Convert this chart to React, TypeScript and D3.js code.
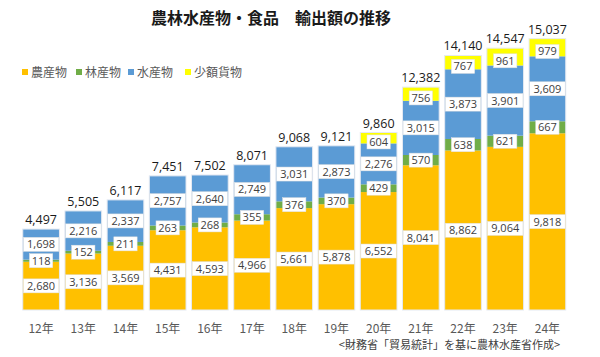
import React from "react";
import * as d3 from "d3";

const years = ["12年", "13年", "14年", "15年", "16年", "17年", "18年", "19年", "20年", "21年", "22年", "23年", "24年"];
const agri = [2680, 3136, 3569, 4431, 4593, 4966, 5661, 5878, 6552, 8041, 8862, 9064, 9818];
const forest = [118, 152, 211, 263, 268, 355, 376, 370, 429, 570, 638, 621, 667];
const fish = [1698, 2216, 2337, 2757, 2640, 2749, 3031, 2873, 2276, 3015, 3873, 3901, 3609];
const small = [0, 0, 0, 0, 0, 0, 0, 0, 604, 756, 767, 961, 979];
const totals = [4497, 5505, 6117, 7451, 7502, 8071, 9068, 9121, 9860, 12382, 14140, 14547, 15037];
const seriesNames = ["農産物", "林産物", "水産物", "少額貨物"];
const seriesColors = ["#FFC000", "#70AD47", "#5B9BD5", "#FFFF00"];

const W = 600;
const H = 357;
const FONT = "'Noto Sans CJK JP', 'Noto Sans', sans-serif";

export default function App() {
  const x = d3.scaleBand<string>().domain(years).range([20, 568.5]).paddingInner(0.13).paddingOuter(0.065);
  const y = d3.scaleLinear().domain([0, 16000]).range([310, 22]);
  const rows = years.map((yr, i) => ({ year: yr, a: agri[i], f: forest[i], s: fish[i], m: small[i] }));
  const stack = d3.stack<any>().keys(["a", "f", "s", "m"])(rows);
  const fmt = d3.format(",");

  const legendX = [22, 76, 128, 185];

  return (
    <svg width={W} height={H} style={{ position: "absolute", left: 0, top: 0, background: "#fff" }} fontFamily={FONT}>
      <text x={271} y={24} textAnchor="middle" fontSize={16} fontWeight="bold" fill="#1a1a1a">
        農林水産物・食品　輸出額の推移
      </text>
      {seriesNames.map((n, i) => (
        <g key={n}>
          <rect x={legendX[i]} y={69} width={6} height={6} fill={seriesColors[i]} />
          <text x={legendX[i] + 9} y={76.5} fontSize={12} fill="#595959">{n}</text>
        </g>
      ))}
      {stack.map((layer, li) => (
        <g key={li}>
          {layer.map((d, i) => {
            const v = d[1] - d[0];
            if (v <= 0) return null;
            return (
              <rect
                key={i}
                x={x(years[i])}
                y={y(d[1])}
                width={x.bandwidth()}
                height={y(d[0]) - y(d[1])}
                fill={seriesColors[li]}
              />
            );
          })}
        </g>
      ))}
      {years.map((yr, i) => {
        const top = stack[3][i][1];
        return (
          <rect key={"o" + i} x={x(yr)} y={y(top)} width={x.bandwidth()} height={y(0) - y(top)} fill="none" stroke="#e4e9f2" strokeWidth={1} />
        );
      })}
      {stack.map((layer, li) => (
        <g key={"l" + li}>
          {layer.map((d, i) => {
            const v = d[1] - d[0];
            if (v <= 0) return null;
            const label = fmt(v);
            const cx = (x(years[i]) as number) + x.bandwidth() / 2;
            const cy = (y(d[0]) + y(d[1])) / 2 + (li === 3 ? 4 : 0);
            const w = label.length * 6.1 + 5;
            return (
              <g key={i}>
                <rect x={cx - w / 2} y={cy - 7} width={w} height={14} fill="#fff" stroke="#e0e0e0" strokeWidth={0.5} />
                <text x={cx} y={cy + 4} textAnchor="middle" fontSize={11} fill="#404040" fontFamily="'Open Sans', 'Noto Sans', sans-serif">
                  {label}
                </text>
              </g>
            );
          })}
        </g>
      ))}
      {years.map((yr, i) => (
        <text key={"t" + i} x={(x(yr) as number) + x.bandwidth() / 2} y={y(totals[i]) - 5} textAnchor="middle" fontSize={12.5} fill="#1a1a1a" fontFamily="'Open Sans', 'Noto Sans', sans-serif">
          {fmt(totals[i])}
        </text>
      ))}
      {years.map((yr, i) => (
        <text key={"x" + i} x={(x(yr) as number) + x.bandwidth() / 2} y={333} textAnchor="middle" fontSize={12} fill="#595959">
          {yr}
        </text>
      ))}
      <text x={560} y={349} textAnchor="end" fontSize={11} fill="#404040">
        &lt;財務省「貿易統計」を基に農林水産省作成&gt;
      </text>
    </svg>
  );
}
